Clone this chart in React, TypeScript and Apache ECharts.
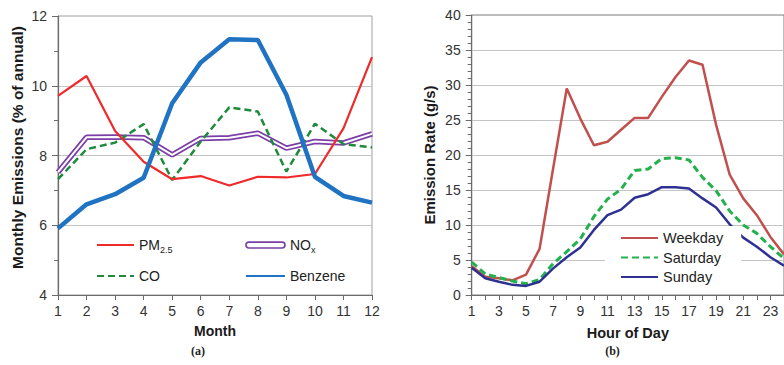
import React, { useEffect, useRef } from "react";
import * as echarts from "echarts";

const months = ["1", "2", "3", "4", "5", "6", "7", "8", "9", "10", "11", "12"];
const pm25 = [9.71, 10.28, 8.7, 7.82, 7.32, 7.41, 7.14, 7.39, 7.37, 7.47, 8.78, 10.82];
const nox = [7.52, 8.52, 8.53, 8.51, 8.02, 8.49, 8.51, 8.64, 8.21, 8.4, 8.36, 8.62];
const co = [7.32, 8.18, 8.37, 8.9, 7.3, 8.4, 9.38, 9.26, 7.54, 8.91, 8.33, 8.23];
const benzene = [5.91, 6.6, 6.89, 7.36, 9.5, 10.67, 11.33, 11.31, 9.74, 7.39, 6.84, 6.65];

const hours = ["1", "2", "3", "4", "5", "6", "7", "8", "9", "10", "11", "12", "13", "14", "15", "16", "17", "18", "19", "20", "21", "22", "23", "24"];
const weekday = [4.1, 2.6, 2.4, 2.1, 2.9, 6.6, 18.1, 29.5, 25.2, 21.4, 21.9, 23.6, 25.3, 25.3, 28.3, 31.1, 33.5, 32.9, 24.3, 17.2, 13.8, 11.4, 8.3, 5.8];
const saturday = [4.7, 3.0, 2.5, 2.0, 1.6, 2.2, 4.5, 6.2, 8.0, 11.2, 13.7, 15.1, 17.8, 18.0, 19.5, 19.6, 19.3, 16.8, 14.9, 12.0, 10.0, 8.8, 6.9, 5.2];
const sunday = [3.9, 2.4, 1.9, 1.45, 1.3, 1.9, 3.8, 5.4, 6.8, 9.3, 11.4, 12.2, 13.9, 14.4, 15.4, 15.4, 15.2, 13.8, 12.5, 10.1, 8.2, 6.9, 5.4, 4.2];

const FONT = "Liberation Sans, Arial, sans-serif";
const LABEL = "#333333";
const AXIS = "#6b6b6b";
const GRIDC = "#c4c4c4";

export default function App() {
  const ref = useRef<HTMLDivElement>(null);
  useEffect(() => {
    if (!ref.current) return;
    const chart = echarts.init(ref.current, undefined, { renderer: "svg" });
    const legendText = {
      fontFamily: FONT,
      fontSize: 14,
      color: "#222",
      lineHeight: 18,
      rich: {
        n: { fontFamily: FONT, fontSize: 14, color: "#222", lineHeight: 18 },
        sub: { fontFamily: FONT, fontSize: 9, color: "#222", lineHeight: 18, verticalAlign: "bottom", padding: [6, 0, 0, 0] },
      },
    };
    const fmt = (name: string) => {
      if (name === "PM2.5") return "{n|PM}{sub|2.5}";
      if (name === "NOx") return "{n|NO}{sub|x}";
      return "{n|" + name + "}";
    };
    const hiddenSymbol = { opacity: 0 };
    const option: any = {
      animation: false,
      textStyle: { fontFamily: FONT },
      grid: [
        { left: 58, top: 16, width: 314, height: 279, show: true, borderColor: "#a0a0a0", borderWidth: 1, backgroundColor: "transparent" },
        { left: 471.7, top: 15, width: 324.3, height: 280, show: true, borderColor: "#7a7a7a", borderWidth: 1, backgroundColor: "transparent" },
      ],
      legend: [
        {
          data: ["PM2.5", "CO"],
          orient: "vertical",
          left: 96,
          top: 236,
          padding: 0,
          itemWidth: 37,
          itemHeight: 14,
          itemGap: 13,
          itemStyle: hiddenSymbol,
          formatter: fmt,
          textStyle: legendText,
        },
        {
          data: [
            {
              name: "NOx",
              icon: "path://M3,0 L37,0 A3,3 0 0 1 37,6 L3,6 A3,3 0 0 1 3,0 Z",
              itemStyle: { color: "#ffffff", borderColor: "#7b3fa6", borderWidth: 1.6, opacity: 1 },
            },
            "Benzene",
          ],
          orient: "vertical",
          left: 245,
          top: 236,
          padding: 0,
          itemWidth: 39,
          itemHeight: 14,
          itemGap: 13,
          itemStyle: hiddenSymbol,
          formatter: fmt,
          textStyle: legendText,
        },
        {
          data: ["Weekday", "Saturday", "Sunday"],
          orient: "vertical",
          left: 605,
          top: 226,
          padding: [3, 18, 6, 15],
          backgroundColor: "#ffffff",
          itemWidth: 37,
          itemHeight: 14,
          itemGap: 1.5,
          itemStyle: hiddenSymbol,
          textStyle: { fontFamily: FONT, fontSize: 14.5, color: "#222", lineHeight: 18 },
        },
      ],
      xAxis: [
        {
          gridIndex: 0,
          type: "category",
          data: months,
          boundaryGap: false,
          name: "Month",
          nameLocation: "middle",
          nameGap: 29,
          nameTextStyle: { fontFamily: FONT, fontSize: 14, fontWeight: "bold", color: "#1a1a1a" },
          axisLine: { lineStyle: { color: AXIS, width: 1.2 } },
          axisTick: { show: true, length: 5, interval: 0, lineStyle: { color: AXIS } },
          axisLabel: { interval: 0, fontSize: 14, color: LABEL, margin: 9, fontFamily: FONT },
          splitLine: { show: false },
        },
        {
          gridIndex: 1,
          type: "category",
          data: hours,
          boundaryGap: false,
          name: "Hour of Day",
          nameLocation: "middle",
          nameGap: 30,
          nameTextStyle: { fontFamily: FONT, fontSize: 14.5, fontWeight: "bold", color: "#1a1a1a" },
          axisLine: { lineStyle: { color: AXIS, width: 1.2 } },
          axisTick: { show: true, length: 5, interval: 0, lineStyle: { color: AXIS } },
          axisLabel: { interval: 1, fontSize: 14, color: LABEL, margin: 9, fontFamily: FONT },
          splitLine: { show: false },
        },
      ],
      yAxis: [
        {
          gridIndex: 0,
          type: "value",
          min: 4,
          max: 12,
          interval: 2,
          name: "Monthly Emissions (% of annual)",
          nameLocation: "middle",
          nameGap: 33,
          nameTextStyle: { fontFamily: FONT, fontSize: 15.5, fontWeight: "bold", color: "#1a1a1a", padding: [0, 0, 0, 16] },
          axisLine: { show: true, lineStyle: { color: AXIS, width: 1.2 } },
          axisTick: { show: true, length: 6, lineStyle: { color: AXIS } },
          minorTick: { show: true, splitNumber: 2, length: 4, lineStyle: { color: AXIS } },
          axisLabel: { fontSize: 14, color: LABEL, margin: 11, fontFamily: FONT },
          splitLine: { show: true, showMinLine: false, showMaxLine: false, lineStyle: { color: GRIDC, width: 1.2 } },
        },
        {
          gridIndex: 1,
          type: "value",
          min: 0,
          max: 40,
          interval: 5,
          name: "Emission Rate (g/s)",
          nameLocation: "middle",
          nameGap: 35,
          nameTextStyle: { fontFamily: FONT, fontSize: 15, fontWeight: "bold", color: "#1a1a1a" },
          axisLine: { show: true, lineStyle: { color: AXIS, width: 1.2 } },
          axisTick: { show: true, length: 6, lineStyle: { color: AXIS } },
          minorTick: { show: true, splitNumber: 5, length: 4, lineStyle: { color: AXIS } },
          axisLabel: { fontSize: 14, color: LABEL, margin: 11, fontFamily: FONT },
          splitLine: { show: true, showMinLine: false, showMaxLine: false, lineStyle: { color: GRIDC, width: 1.2 } },
        },
      ],
      series: [
        {
          name: "NOx",
          type: "line",
          xAxisIndex: 0,
          yAxisIndex: 0,
          data: nox,
          symbol: "none",
          z: 2,
          lineStyle: { color: "#7b3fa6", width: 5.5 },
          itemStyle: { color: "#7b3fa6" },
        },
        {
          name: "NOx-inner",
          type: "line",
          xAxisIndex: 0,
          yAxisIndex: 0,
          data: nox,
          symbol: "none",
          z: 3,
          lineStyle: { color: "#ffffff", width: 2 },
          itemStyle: { color: "#ffffff" },
        },
        {
          name: "CO",
          type: "line",
          xAxisIndex: 0,
          yAxisIndex: 0,
          data: co,
          symbol: "none",
          z: 4,
          lineStyle: { color: "#1e8a3c", width: 2.5, type: [7, 4] },
          itemStyle: { color: "#1e8a3c" },
        },
        {
          name: "PM2.5",
          type: "line",
          xAxisIndex: 0,
          yAxisIndex: 0,
          data: pm25,
          symbol: "none",
          z: 5,
          lineStyle: { color: "#ee2a2a", width: 2.2 },
          itemStyle: { color: "#ee2a2a" },
        },
        {
          name: "Benzene",
          type: "line",
          xAxisIndex: 0,
          yAxisIndex: 0,
          data: benzene,
          symbol: "none",
          z: 6,
          lineStyle: { color: "#1f73c2", width: 4.5 },
          itemStyle: { color: "#1f73c2" },
        },
        {
          name: "Weekday",
          type: "line",
          xAxisIndex: 1,
          yAxisIndex: 1,
          data: weekday,
          symbol: "none",
          lineStyle: { color: "#c0504d", width: 2.5 },
          itemStyle: { color: "#c0504d" },
        },
        {
          name: "Saturday",
          type: "line",
          xAxisIndex: 1,
          yAxisIndex: 1,
          data: saturday,
          symbol: "none",
          lineStyle: { color: "#22b14c", width: 3, type: [7, 4] },
          itemStyle: { color: "#22b14c" },
        },
        {
          name: "Sunday",
          type: "line",
          xAxisIndex: 1,
          yAxisIndex: 1,
          data: sunday,
          symbol: "none",
          lineStyle: { color: "#2e3192", width: 2.5 },
          itemStyle: { color: "#2e3192" },
        },
      ],
      graphic: [
        {
          type: "text",
          x: 198,
          y: 351,
          style: { text: "(a)", fontFamily: "Liberation Serif, serif", fontWeight: "bold", fontSize: 12, fill: "#222", align: "center", verticalAlign: "middle" },
        },
        {
          type: "text",
          x: 612.5,
          y: 351,
          style: { text: "(b)", fontFamily: "Liberation Serif, serif", fontWeight: "bold", fontSize: 12, fill: "#222", align: "center", verticalAlign: "middle" },
        },
      ],
    };
    chart.setOption(option);
    return () => chart.dispose();
  }, []);
  return (
    <div
      ref={ref}
      style={{ position: "fixed", left: 0, top: 0, width: 784, height: 365, background: "#fff" }}
    />
  );
}
